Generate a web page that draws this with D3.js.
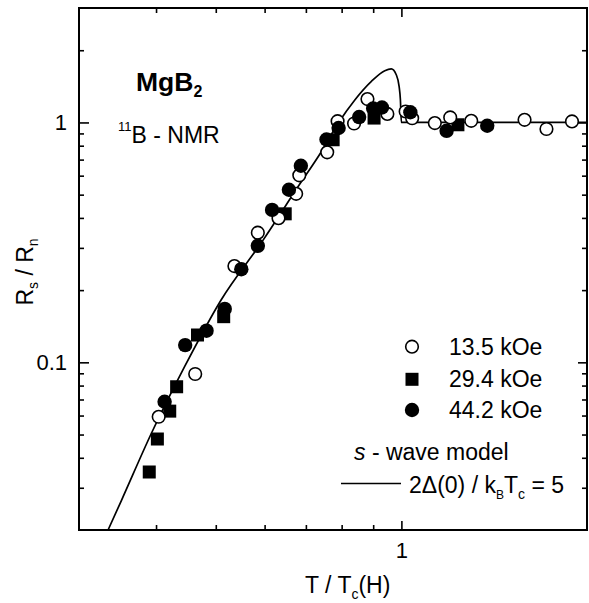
<!DOCTYPE html>
<html>
<head>
<meta charset="utf-8">
<script src="https://cdn.jsdelivr.net/npm/d3@7"></script>
<style>
  body { margin: 0; background: #fff; }
  text { font-family: "Liberation Sans", Arial, Helvetica, sans-serif; fill: #000; }
</style>
</head>
<body>
<div class="container"></div>
<script>
// data (T/Tc(H) vs Rs/Rn)
const open13T = [0.404,0.463,0.536,0.585,0.632,0.675,0.683,0.758,0.788,0.838,0.881,0.949,1.016,1.041,1.133,1.200,1.298,1.584,1.719,1.891];
const open13R = [0.0593,0.0894,0.252,0.347,0.399,0.504,0.602,0.751,1.012,0.990,1.252,1.085,1.111,1.041,0.994,1.049,1.016,1.026,0.939,1.010];

const sq29T = [0.390,0.402,0.421,0.432,0.467,0.515,0.648,0.775,0.903,1.235];
const sq29R = [0.0349,0.0479,0.0626,0.0791,0.130,0.155,0.416,0.847,1.043,0.978];

const fill44T = [0.413,0.446,0.483,0.517,0.550,0.585,0.617,0.657,0.687,0.756,0.791,0.854,0.900,0.930,1.034,1.184,1.378];
const fill44R = [0.0685,0.118,0.1355,0.167,0.2445,0.306,0.432,0.524,0.660,0.849,0.948,1.053,1.143,1.154,1.103,0.923,0.969];

// s-wave model curve, 2D(0)/kTc = 5
const modelT = [0.3344,0.3516,0.393,0.445,0.510,0.597,0.683,0.742,0.790,0.841,0.894,0.940,0.963,0.981,0.9915,0.9963,1.0,2.0];
const modelR = [0.02,0.0266,0.0505,0.0959,0.182,0.324,0.5495,0.757,0.994,1.244,1.483,1.644,1.671,1.581,1.413,1.244,1.0,1.0];

const xMajor = [1];
const xMinor = [0.4,0.5,0.6,0.7,0.8,0.9];
const yMajor = [0.1,1];
const yMinor = [0.03,0.04,0.05,0.06,0.07,0.08,0.09,0.2,0.3,0.4,0.5,0.6,0.7,0.8,0.9,2];

// build the SVG
const W = 589, H = 603;
const plot = {left: 79, right: 587, top: 8, bottom: 530};

const svg = d3.select(".container").append("svg")
    .attr("width", W).attr("height", H);

const x = d3.scaleLog().domain([0.3, 2]).range([plot.left, plot.right]);
const y = d3.scaleLog().domain([0.02, 3]).range([plot.bottom, plot.top]);

// model line (under the markers)
const line = d3.line()
    .x(d => x(d[0])).y(d => y(d[1]))
    .curve(d3.curveMonotoneX);
svg.append("path")
    .datum(modelT.map((t, i) => [t, modelR[i]]))
    .attr("d", line)
    .attr("fill", "none").attr("stroke", "#000").attr("stroke-width", 1.7);

// markers
const sqs = sq29T.map((t, i) => [t, sq29R[i]]);
svg.selectAll(".sq").data(sqs).enter().append("rect")
    .attr("class", "sq")
    .attr("x", d => x(d[0]) - 6.5).attr("y", d => y(d[1]) - 6.5)
    .attr("width", 13).attr("height", 13)
    .attr("fill", "#000");

const opens = open13T.map((t, i) => [t, open13R[i]]);
svg.selectAll(".op").data(opens).enter().append("circle")
    .attr("class", "op")
    .attr("cx", d => x(d[0])).attr("cy", d => y(d[1])).attr("r", 6.3)
    .attr("fill", "#fff").attr("stroke", "#000").attr("stroke-width", 1.6);

const fills = fill44T.map((t, i) => [t, fill44R[i]]);
svg.selectAll(".fc").data(fills).enter().append("circle")
    .attr("class", "fc")
    .attr("cx", d => x(d[0])).attr("cy", d => y(d[1])).attr("r", 7.2)
    .attr("fill", "#000");

// axes, ticks pointing inward on all four sides
function styleAxis(g) {
    g.select(".domain").remove();
    g.selectAll("line").attr("stroke", "#000").attr("stroke-width", 1.6);
    g.selectAll("text").attr("font-size", 22).attr("fill", "#000")
        .attr("font-family", "'Liberation Sans', Arial, sans-serif");
}
svg.append("g").attr("transform", "translate(0," + plot.bottom + ")")
    .call(d3.axisBottom(x).tickValues(xMajor).tickSize(-9).tickPadding(12).tickFormat(d3.format("")))
    .call(styleAxis);
svg.append("g").attr("transform", "translate(0," + plot.bottom + ")")
    .call(d3.axisBottom(x).tickValues(xMinor).tickSize(-5).tickFormat(""))
    .call(styleAxis);
svg.append("g").attr("transform", "translate(0," + plot.top + ")")
    .call(d3.axisTop(x).tickValues(xMajor).tickSize(-9).tickFormat(""))
    .call(styleAxis);
svg.append("g").attr("transform", "translate(0," + plot.top + ")")
    .call(d3.axisTop(x).tickValues(xMinor).tickSize(-5).tickFormat(""))
    .call(styleAxis);

svg.append("g").attr("transform", "translate(" + plot.left + ",0)")
    .call(d3.axisLeft(y).tickValues(yMajor).tickSize(-10).tickPadding(12).tickFormat(d3.format("")))
    .call(styleAxis);
svg.append("g").attr("transform", "translate(" + plot.left + ",0)")
    .call(d3.axisLeft(y).tickValues(yMinor).tickSize(-5).tickFormat(""))
    .call(styleAxis);
svg.append("g").attr("transform", "translate(" + plot.right + ",0)")
    .call(d3.axisRight(y).tickValues(yMajor).tickSize(-9).tickFormat(""))
    .call(styleAxis);
svg.append("g").attr("transform", "translate(" + plot.right + ",0)")
    .call(d3.axisRight(y).tickValues(yMinor).tickSize(-5).tickFormat(""))
    .call(styleAxis);

// frame
svg.append("rect")
    .attr("x", plot.left).attr("y", plot.top)
    .attr("width", plot.right - plot.left).attr("height", plot.bottom - plot.top)
    .attr("fill", "none").attr("stroke", "#000").attr("stroke-width", 2);

// axis titles
const xt = svg.append("text").attr("x", 305).attr("y", 593).attr("font-size", 23);
xt.append("tspan").text("T / T");
xt.append("tspan").attr("font-size", 14).attr("dy", 6).text("c");
xt.append("tspan").attr("dy", -6).text("(H)");

const yt = svg.append("text")
    .attr("transform", "translate(33,272) rotate(-90)")
    .attr("text-anchor", "middle").attr("font-size", 23);
yt.append("tspan").text("R");
yt.append("tspan").attr("font-size", 14).attr("dy", 5).text("s");
yt.append("tspan").attr("dy", -5).text(" / R");
yt.append("tspan").attr("font-size", 14).attr("dy", 5).text("n");

// sample labels
const mg = svg.append("text").attr("x", 136).attr("y", 91)
    .attr("font-size", 26.5).attr("font-weight", "bold");
mg.append("tspan").text("MgB");
mg.append("tspan").attr("font-size", 16).attr("dy", 6).text("2");

const nmr = svg.append("text").attr("x", 118).attr("y", 143).attr("font-size", 23);
nmr.append("tspan").attr("font-size", 13).attr("dy", -12).text("11");
nmr.append("tspan").attr("dy", 12).text("B - NMR");

// legend
const legY = [346.7, 379.3, 410];
const legLabels = ["13.5 kOe", "29.4 kOe", "44.2 kOe"];
svg.append("circle").attr("cx", 412).attr("cy", legY[0]).attr("r", 6.3)
    .attr("fill", "#fff").attr("stroke", "#000").attr("stroke-width", 1.6);
svg.append("rect").attr("x", 412 - 6.5).attr("y", legY[1] - 6.5)
    .attr("width", 13).attr("height", 13).attr("fill", "#000");
svg.append("circle").attr("cx", 412).attr("cy", legY[2]).attr("r", 7.2).attr("fill", "#000");
svg.selectAll(".leg").data(legLabels).enter().append("text")
    .attr("class", "leg")
    .attr("x", 449).attr("y", (d, i) => legY[i] + 8)
    .attr("font-size", 23)
    .text(d => d);

const sw = svg.append("text").attr("x", 354).attr("y", 460).attr("font-size", 23);
sw.append("tspan").attr("font-style", "italic").text("s");
sw.append("tspan").text(" - wave model");

svg.append("line").attr("x1", 341).attr("x2", 401).attr("y1", 483.5).attr("y2", 483.5)
    .attr("stroke", "#000").attr("stroke-width", 1.7);
const md = svg.append("text").attr("x", 409).attr("y", 493).attr("font-size", 23);
md.append("tspan").text("2\u0394(0) / k");
md.append("tspan").attr("font-size", 12).attr("dy", 6).text("B");
md.append("tspan").attr("dy", -6).text("T");
md.append("tspan").attr("font-size", 14).attr("dy", 6).text("c");
md.append("tspan").attr("dy", -6).text(" = 5");
</script>
</body>
</html>
